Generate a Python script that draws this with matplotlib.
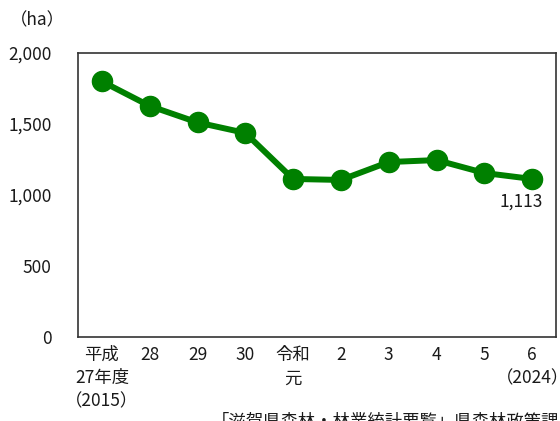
import matplotlib
matplotlib.use("Agg")
import matplotlib.pyplot as plt

plt.rcParams['font.family'] = ['Noto Sans CJK JP', 'DejaVu Sans']

categories = ["平成\n27年度\n（2015）", "28", "29", "30", "令和\n元", "2", "3", "4", "5", "6\n（2024）"]
values = [1800, 1627, 1511, 1437, 1113, 1106, 1232, 1246, 1155, 1113]
yticks = [0, 500, 1000, 1500, 2000]
ytick_labels = ["0", "500", "1,000", "1,500", "2,000"]

FS = 12.5
TC = "#1a1a1a"

fig = plt.figure(figsize=(5.6, 4.21), dpi=100)
ax = fig.add_axes([78/560, 1-337/421, (556-78)/560, (337-53)/421])

x = list(range(len(categories)))
ax.plot(x, values, color="#008000", lw=4.3, marker="o", markersize=14.5, solid_capstyle="round")

ax.set_xlim(-0.5, len(categories) - 0.5)
ax.set_ylim(0, 2000)
ax.set_yticks(yticks)
ax.set_yticklabels(ytick_labels, fontsize=FS)
ax.set_xticks(x)
ax.set_xticklabels(categories, fontsize=FS, linespacing=1.38, va="top")
ax.tick_params(axis="both", length=0, colors=TC)
ax.tick_params(axis="y", pad=19)
ax.tick_params(axis="x", pad=6.5)
for s in ax.spines.values():
    s.set_color("#333333")
    s.set_linewidth(1.2)

ax.annotate("1,113", xy=(x[-1], values[-1]), xytext=(-8, -10), textcoords="offset points",
            ha="center", va="top", fontsize=FS, color=TC)

fig.text(10/560, 1-20/421, "（ha）", fontsize=FS, ha="left", va="center", color=TC)
fig.text(212/560, 1-412/421, "「滋賀県森林・林業統計要覧」県森林政策課", fontsize=FS, ha="left", va="top", color=TC)

fig.savefig("out.png", dpi=100)
